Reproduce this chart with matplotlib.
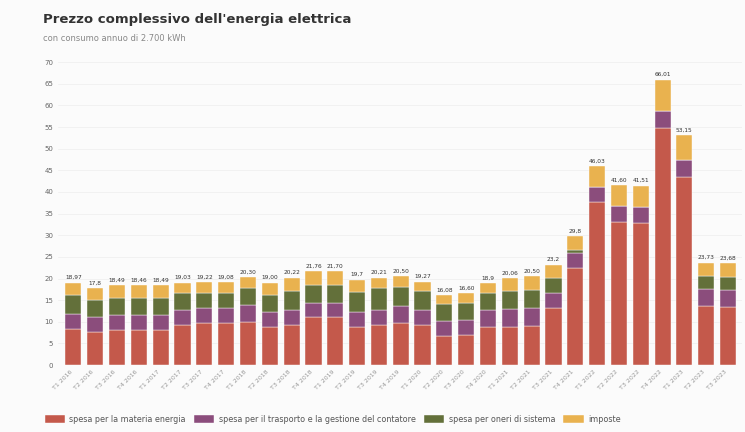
import numpy as np
import matplotlib.pyplot as plt

# trimestri dal 2016 al 2023
periodi = [f"T{q} {a}" for a in range(2016, 2024) for q in range(1, 5)][:31]

# c€/kWh, stime
materia = [8.3, 7.6, 8.1, 8.1, 8.1, 9.3, 9.7, 9.7, 10.0, 8.8,
           9.3, 11.1, 11.1, 8.8, 9.3, 9.7, 9.3, 6.6, 6.9, 8.8,
           8.8, 9.0, 13.2, 22.5, 37.6, 33.0, 32.9, 54.8, 43.5, 13.6, 13.5]
trasporto = [3.4, 3.5, 3.5, 3.5, 3.5, 3.5, 3.5, 3.5, 3.9, 3.5,
             3.5, 3.2, 3.2, 3.5, 3.5, 3.9, 3.5, 3.6, 3.5, 3.9,
             4.1, 4.1, 3.5, 3.5, 3.5, 3.7, 3.7, 3.9, 3.9, 3.9, 3.9]
oneri = [4.5, 3.9, 3.9, 3.9, 3.9, 3.9, 3.5, 3.4, 3.9, 3.9,
         4.4, 4.2, 4.2, 4.6, 5.1, 4.4, 4.2, 3.9, 3.9, 3.9,
         4.1, 4.3, 3.5, 0.6, 0.0, 0.0, 0.0, 0.0, 0.0, 3.0, 3.0]
imposte = [2.8, 2.8, 3.0, 2.9, 3.0, 2.3, 2.5, 2.5, 2.5, 2.8,
           3.0, 3.2, 3.2, 2.8, 2.3, 2.5, 2.3, 2.0, 2.3, 2.3,
           3.1, 3.1, 3.0, 3.2, 4.9, 4.9, 4.9, 7.3, 5.8, 3.2, 3.2]
etichette = ["18,97", "17,8", "18,49", "18,46", "18,49", "19,03", "19,22", "19,08", "20,30", "19,00",
             "20,22", "21,76", "21,70", "19,7", "20,21", "20,50", "19,27", "16,08", "16,60", "18,9",
             "20,06", "20,50", "23,2", "29,8", "46,03", "41,60", "41,51", "66,01", "53,15", "23,73", "23,68"]

serie = [materia, trasporto, oneri, imposte]
nomi = ["spesa per la materia energia",
        "spesa per il trasporto e la gestione del contatore",
        "spesa per oneri di sistema",
        "imposte"]
colori = ["#c4594b", "#8b4d7c", "#63703a", "#e9b24f"]

fig = plt.figure(figsize=(7.45, 4.32), dpi=100)
fig.patch.set_facecolor("#fbfbfb")
ax = fig.add_axes([0.078, 0.155, 0.918, 0.701])
ax.set_facecolor("#fbfbfb")

x = np.arange(len(periodi))
base = np.zeros(len(periodi))
for valori, nome, col in zip(serie, nomi, colori):
    ax.bar(x, valori, 0.74, bottom=base, color=col, label=nome,
           edgecolor="white", linewidth=0.3)
    base += np.array(valori)

for xi, tot, et in zip(x, base, etichette):
    ax.text(xi, tot + 0.6, et, ha="center", va="bottom", fontsize=4.2, color="#333333")

ax.set_xlim(-0.7, 30.64)
ax.set_ylim(0, 70)
ax.set_yticks(np.arange(0, 71, 5))
ax.tick_params(axis="y", labelsize=5, colors="#666666", length=0)
ax.set_xticks(x)
ax.set_xticklabels(periodi, rotation=45, ha="right", fontsize=4.5, color="#999999")
ax.tick_params(axis="x", length=0, pad=3)
ax.grid(axis="y", color="#eeeeee", linewidth=0.5)
ax.set_axisbelow(True)
for s in ax.spines.values():
    s.set_visible(False)

fig.text(0.058, 0.955, "Prezzo complessivo dell'energia elettrica", fontsize=9.5,
         fontweight="bold", color="#333333", va="center")
fig.text(0.058, 0.91, "con consumo annuo di 2.700 kWh", fontsize=6, color="#888888", va="center")

fig.legend(loc="lower left", bbox_to_anchor=(0.05, 0.002), ncol=4, frameon=False,
           fontsize=5.8, handlelength=2.5, handleheight=1.1, columnspacing=1.0,
           handletextpad=0.6, labelcolor="#555555")

fig.savefig("out.png", dpi=100, facecolor=fig.get_facecolor())
